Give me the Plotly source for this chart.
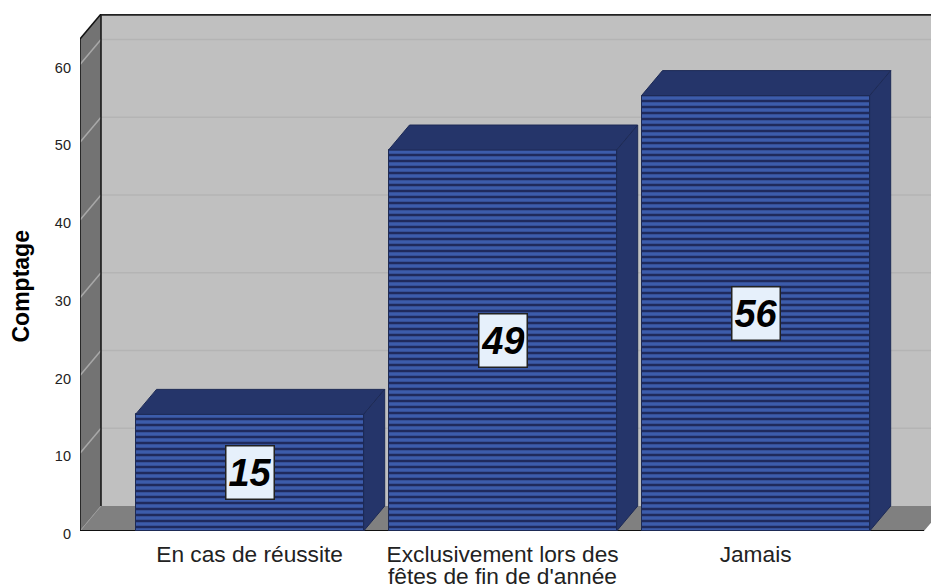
import plotly.graph_objects as go

category_lines = [["En cas de réussite"], ["Exclusivement lors des", "fêtes de fin de d'année"], ["Jamais"]]
counts = [15, 49, 56]
y_ticks = [0, 10, 20, 30, 40, 50, 60]
y_title = "Comptage"

W, H = 931, 587
L, T, B = 80, 14, 531
PX_PER_UNIT = 7.775
PX_PER_CAT = 253.0
X0_PX = 249.6
DX = 21 / PX_PER_CAT
DY = 25 / PX_PER_UNIT
y_max = (B - T) / PX_PER_UNIT
x_min = (L - X0_PX) / PX_PER_CAT
x_max = (W - X0_PX) / PX_PER_CAT
x_end = (945 - X0_PX) / PX_PER_CAT
BAR_W = 0.902
idx = list(range(len(category_lines)))

wall_top = y_max - DY
shapes = []


def poly(pts, fill):
    d = "M" + " L".join(f"{a},{b}" for a, b in pts) + " Z"
    shapes.append(dict(type="path", path=d, xref="x", yref="y", fillcolor=fill,
                       line=dict(width=0), layer="below"))


def seg(x0, y0, x1, y1, color, w):
    shapes.append(dict(type="line", x0=x0, y0=y0, x1=x1, y1=y1, xref="x", yref="y",
                       line=dict(color=color, width=w), layer="below"))


poly([(x_min + DX, DY), (x_end, DY), (x_end, y_max), (x_min + DX, y_max)], "#c0c0c0")
poly([(x_min, 0), (x_min + DX, DY), (x_min + DX, y_max), (x_min, wall_top)], "#737373")
poly([(x_min, 0), (x_end - DX, 0), (x_end, DY), (x_min + DX, DY)], "#808080")
for t in y_ticks:
    if t == 0:
        seg(x_min, 0, x_min + DX, DY, "#9a9a9a", 1)
        continue
    seg(x_min, t, x_min + DX, t + DY, "#a8a8a8", 1.5)
    seg(x_min + DX, t + DY, x_end, t + DY, "#b4b4b4", 1.5)

seg(x_min, 0, x_min, wall_top, "#111111", 1.5)
seg(x_min + DX, DY, x_min + DX, y_max, "#111111", 1.5)
seg(x_min, wall_top, x_min + DX, y_max, "#111111", 1.5)
seg(x_min + DX, y_max - 0.1, x_end, y_max - 0.1, "#222222", 2)
seg(x_min, 0, x_end - DX, 0, "#111111", 2)

fig = go.Figure()
FACE = "#25356a"
EDGE = "#1d2a55"
for i, v in zip(idx, counts):
    a, b = i - BAR_W / 2, i + BAR_W / 2
    fig.add_trace(go.Scatter(x=[a, b, b + DX, a + DX, a], y=[v, v, v + DY, v + DY, v],
                             mode="lines", fill="toself", fillcolor=FACE,
                             line=dict(color=EDGE, width=1), hoverinfo="skip", showlegend=False))
    fig.add_trace(go.Scatter(x=[b, b + DX, b + DX, b, b], y=[0, DY, v + DY, v, 0],
                             mode="lines", fill="toself", fillcolor=FACE,
                             line=dict(color=EDGE, width=1), hoverinfo="skip", showlegend=False))

fig.add_trace(go.Bar(x=idx, y=counts, width=BAR_W, showlegend=False,
                     marker=dict(color="#3a58a6", line=dict(color=EDGE, width=1),
                                 pattern=dict(shape="-", size=6, solidity=0.42,
                                              fgcolor="#1f2a5c", bgcolor="#3c5cab", fillmode="replace"))))

annotations = [dict(x=i, y=v / 2, xref="x", yref="y", text=f"<b><i>{v}</i></b>", showarrow=False,
                    font=dict(family="Liberation Sans", size=38, color="#000000"),
                    bgcolor="#e6f0fb", bordercolor="#222222", borderwidth=1.5, borderpad=2, width=43, height=48)
               for i, v in zip(idx, counts)]

# Second lines of the category labels sit closer than Plotly's fixed <br> spacing.
for i, lines in zip(idx, category_lines):
    for n, line in enumerate(lines[1:], start=1):
        annotations.append(dict(x=i, y=0, xref="x", yref="paper", text=line, showarrow=False,
                                yanchor="middle", yshift=-(576 - 531),
                                font=dict(family="Liberation Sans", size=22.7, color="#222222")))

annotations.append(dict(x=(21 - L) / (W - L), y=(B - 286.5) / (B - T), xref="paper", yref="paper",
                        xanchor="center", yanchor="middle",
                        text=f"<b>{y_title}</b>", textangle=-90, showarrow=False,
                        font=dict(family="Liberation Sans", size=23, color="#000000")))

fig.update_layout(
    width=W, height=H, autosize=False, bargap=0,
    margin=dict(l=L, r=0, t=T, b=H - B, pad=0),
    paper_bgcolor="white", plot_bgcolor="white",
    shapes=shapes, annotations=annotations, showlegend=False,
    font=dict(family="Liberation Sans", color="#222222"),
    xaxis=dict(range=[x_min, x_max], tickmode="array", tickvals=idx,
               ticktext=[lines[0] for lines in category_lines],
               showgrid=False, zeroline=False, showline=False, ticks="",
               tickangle=0, ticklabelstandoff=7, tickfont=dict(size=22.7, color="#222222")),
    yaxis=dict(range=[0, y_max], tickmode="array", tickvals=y_ticks, showgrid=False, zeroline=False,
               showline=False, ticks="", ticklabelstandoff=8, ticklabelshift=3,
               tickfont=dict(size=14.5, color="#222222")),
)
fig.write_html("out.html", config={"displayModeBar": False},
               post_script="document.body.style.margin='0';document.body.style.overflow='hidden';")
